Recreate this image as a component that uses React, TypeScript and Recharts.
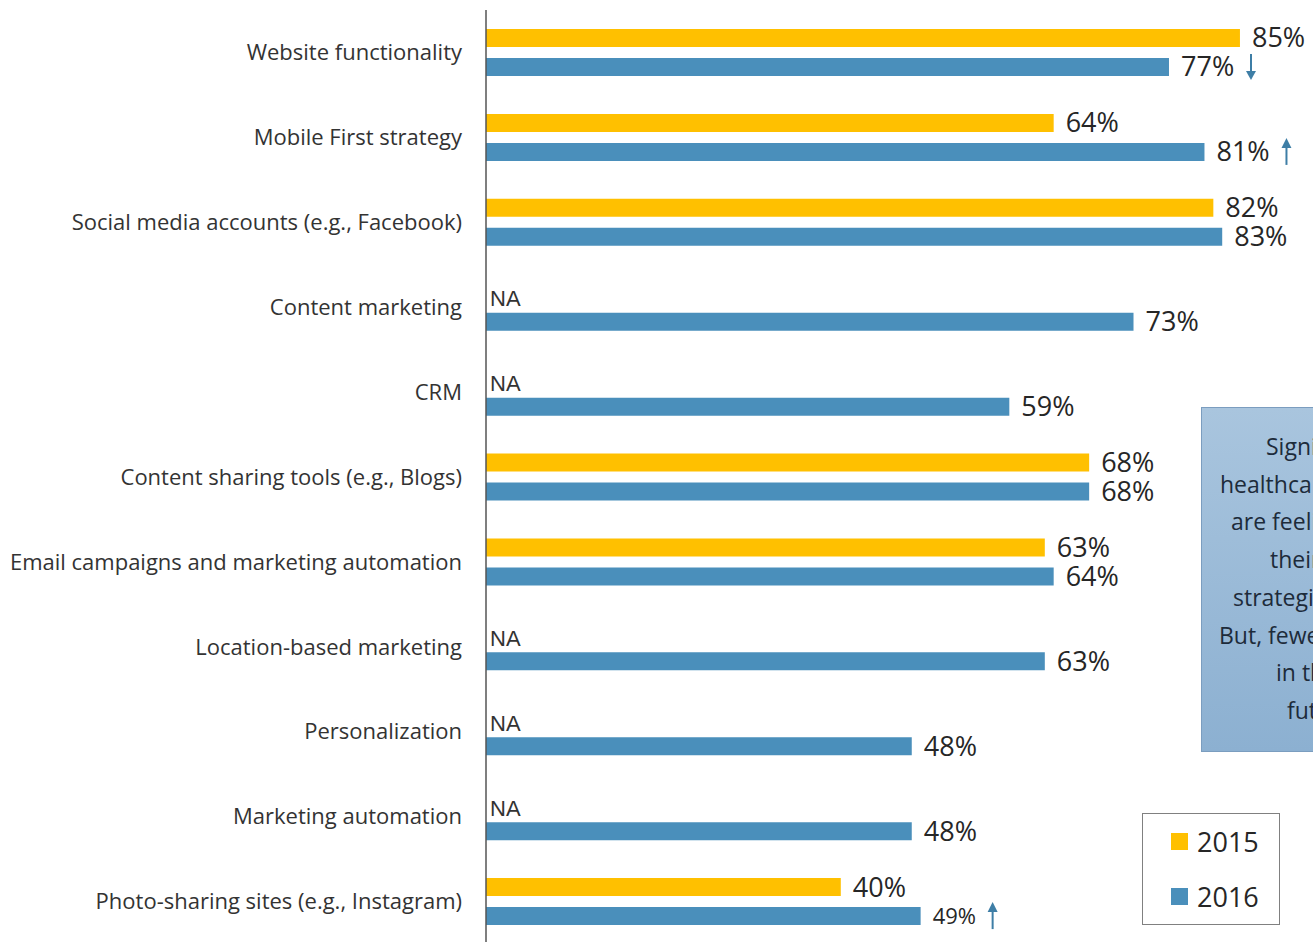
import React from 'react';
import { BarChart, Bar, XAxis, YAxis, LabelList } from 'recharts';

const categories = [
  'Website functionality',
  'Mobile First strategy',
  'Social media accounts (e.g., Facebook)',
  'Content marketing',
  'CRM',
  'Content sharing tools (e.g., Blogs)',
  'Email campaigns and marketing automation',
  'Location-based marketing',
  'Personalization',
  'Marketing automation',
  'Photo-sharing sites (e.g., Instagram)',
];

// null = NA (not asked in 2015)
const values2015 = [85, 64, 82, null, null, 68, 63, null, null, null, 40];
const values2016 = [77, 81, 83, 73, 59, 68, 64, 63, 48, 48, 49];
const trend2016 = ['down', 'up', null, null, null, null, null, null, null, null, 'up'];

const calloutLines = [
  { text: 'Significant', x: 1266 },
  { text: 'healthcare', x: 1220 },
  { text: 'are feeling', x: 1231 },
  { text: 'their', x: 1270 },
  { text: 'strategies.', x: 1233 },
  { text: 'But, fewer', x: 1219 },
  { text: 'in the', x: 1276 },
  { text: 'future.', x: 1287 },
];

const YELLOW = '#FFC000';
const BLUE = '#4A8FBB';
const ARROW = '#3E7EA6';
const FONT = '"Open Sans", sans-serif';

const data = categories.map((name, i) => ({
  name,
  v2015: values2015[i] ?? 0,
  v2016: values2016[i],
}));

const CategoryTick = ({ x, y, payload }: any) => (
  <text x={x} y={y} dy="0.35em" textAnchor="end" fontFamily={FONT} fontSize={22} fill="#333">
    {payload.value}
  </text>
);

// zero-width (NA) bars get no label here, so read the value, not the index
const Label2015 = (props: any) => {
  const { x, y, width, height, value } = props;
  if (!value) return null;
  const cy = Number(y) + Number(height) / 2;
  return (
    <text x={Number(x) + Number(width) + 12} y={cy} dy="0.35em" fontFamily={FONT} fontSize={27} fill="#262626">
      {value}%
    </text>
  );
};

const Label2016 = (props: any) => {
  const { x, y, width, height, index } = props;
  const cy = Number(y) + Number(height) / 2;
  const end = Number(x) + Number(width);
  const trend = trend2016[index];
  const small = index === categories.length - 1;
  const ax = end + 12 + (small ? 46 : 56) + 14;
  return (
    <g>
      {values2015[index] == null && (
        <text x={Number(x) + 4} y={cy - 23} dy="0.35em" fontFamily='"Liberation Sans", Arial, sans-serif' fontSize={22} fill="#333">
          NA
        </text>
      )}
      <text x={end + 12} y={cy} dy="0.35em" fontFamily={FONT} fontSize={small ? 22 : 27} fill="#262626">
        {values2016[index]}%
      </text>
      {trend === 'down' && (
        <g>
          <line x1={ax} y1={cy - 13} x2={ax} y2={cy + 6} stroke={ARROW} strokeWidth={2} />
          <path d={`M${ax - 5},${cy + 4} L${ax + 5},${cy + 4} L${ax},${cy + 13} Z`} fill={ARROW} />
        </g>
      )}
      {trend === 'up' && (
        <g>
          <line x1={ax} y1={cy - 6} x2={ax} y2={cy + 13} stroke={ARROW} strokeWidth={2} />
          <path d={`M${ax - 5},${cy - 4} L${ax + 5},${cy - 4} L${ax},${cy - 14} Z`} fill={ARROW} />
        </g>
      )}
    </g>
  );
};

export default function App() {
  return (
    <div
      style={{
        position: 'absolute',
        left: 0,
        top: 0,
        width: 1313,
        height: 942,
        overflow: 'hidden',
        background: '#fff',
      }}
    >
      <BarChart
        layout="vertical"
        width={1380}
        height={944}
        data={data}
        margin={{ top: 10, right: 7, bottom: 0, left: 0 }}
        barSize={18}
        barGap={11}
      >
        <XAxis type="number" domain={[0, 100]} hide />
        <YAxis
          type="category"
          dataKey="name"
          width={486}
          axisLine={{ stroke: '#555', strokeWidth: 1.5 }}
          tickLine={false}
          tickSize={0}
          tickMargin={24}
          tick={<CategoryTick />}
          interval={0}
        />
        <Bar dataKey="v2015" fill={YELLOW} isAnimationActive={false}>
          <LabelList dataKey="v2015" content={<Label2015 />} />
        </Bar>
        <Bar dataKey="v2016" fill={BLUE} isAnimationActive={false}>
          <LabelList dataKey="v2016" content={<Label2016 />} />
        </Bar>
      </BarChart>

      {/* callout box, cut off by the right edge */}
      <div
        style={{
          position: 'absolute',
          left: 1201,
          top: 407,
          width: 200,
          height: 343,
          border: '1px solid #7b9dbf',
          background: 'linear-gradient(#a9c5de, #8cb0d1)',
        }}
      />
      {calloutLines.map((l, i) => (
        <div
          key={i}
          style={{
            position: 'absolute',
            left: l.x,
            top: 446 + i * 37.7 - 18,
            height: 36,
            lineHeight: '36px',
            fontFamily: FONT,
            fontSize: 23,
            color: '#1d2b3a',
            whiteSpace: 'nowrap',
          }}
        >
          {l.text}
        </div>
      ))}

      {/* legend */}
      <div
        style={{
          position: 'absolute',
          left: 1142,
          top: 813,
          width: 136,
          height: 110,
          border: '1px solid #808080',
          background: '#fff',
          fontFamily: FONT,
          fontSize: 27,
          color: '#262626',
        }}
      >
        {[
          { name: '2015', color: YELLOW, top: 27 },
          { name: '2016', color: BLUE, top: 82 },
        ].map((item) => (
          <div
            key={item.name}
            style={{ position: 'absolute', left: 28, top: item.top - 18, height: 36, display: 'flex', alignItems: 'center' }}
          >
            <span style={{ width: 17, height: 17, background: item.color, display: 'inline-block', marginRight: 9 }} />
            <span>{item.name}</span>
          </div>
        ))}
      </div>
    </div>
  );
}
